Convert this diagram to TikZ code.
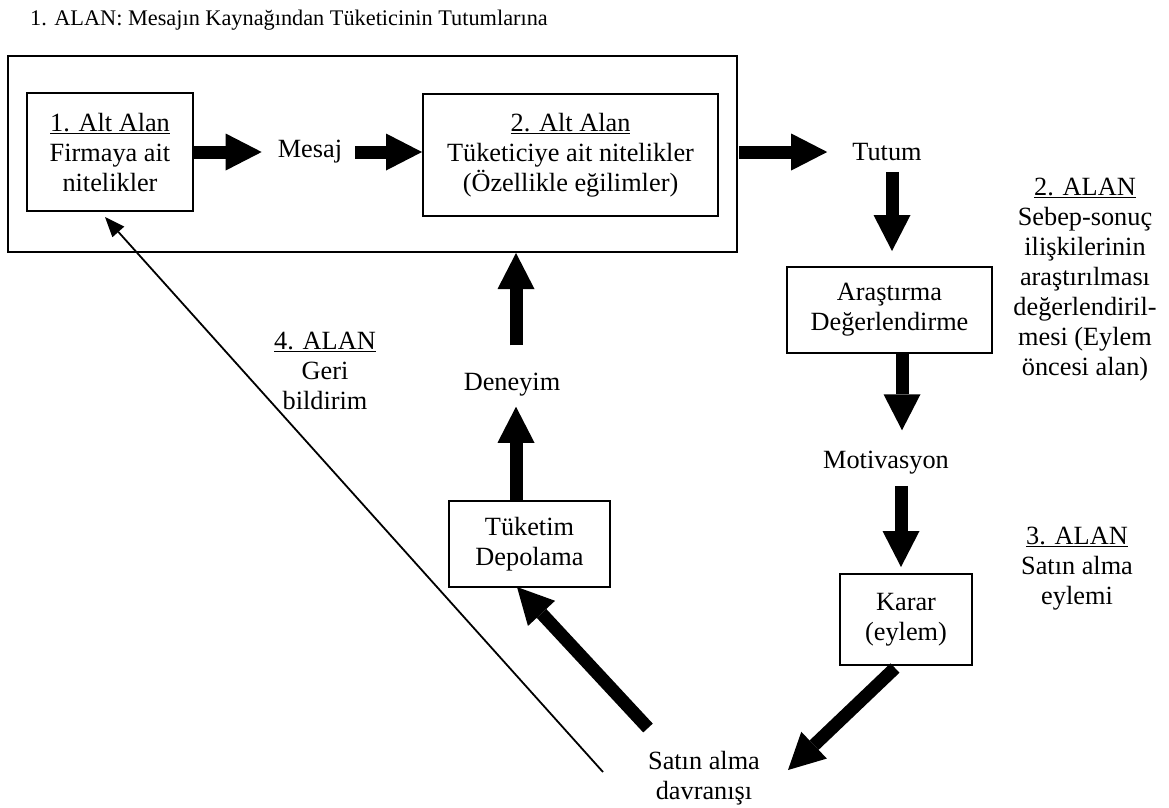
\documentclass[tikz,border=0pt]{standalone}
\usepackage{fontspec}
\setmainfont{Liberation Serif}
\usetikzlibrary{arrows.meta,calc}
\begin{document}
\begin{tikzpicture}[x=1pt,y=-1pt,
  txt/.style={inner sep=0pt, align=center, font=\fontsize{26.3}{30}\selectfont},
  box/.style={txt, draw, line width=2pt},
  blockarrow/.style={line width=13pt, -{Triangle[length=36pt,width=37pt,line width=0pt]}},
  finearrow/.style={line width=1.8pt, -{Triangle[length=20pt,width=16pt,line width=0pt]}}]
\useasboundingbox (0,0) rectangle (1169,807);

% heading
\node[anchor=base west, inner sep=0pt, font=\fontsize{22.3}{26}\selectfont] (title) at (30,25)
  {1. ALAN: Mesajın Kaynağından Tüketicinin Tutumlarına};

% first field frame and its two sub-fields
\node[draw, line width=2pt, inner sep=0pt, minimum width=729pt, minimum height=196pt] (outer) at (372.5,154) {};
\node[box, minimum width=166pt, minimum height=118pt] (firma) at (110,152)
  {\underline{1. Alt Alan}\\Firmaya ait\\nitelikler};
\node[box, minimum width=295pt, minimum height=122pt] (tuketici) at (570.5,155)
  {\underline{2. Alt Alan}\\Tüketiciye ait nitelikler\\(Özellikle eğilimler)};
\node[txt] (mesaj) at (310,152) {Mesaj};
\node[txt] (tutum) at (887,152) {Tutum};

% right column
\node[box, minimum width=205pt, minimum height=86pt] (arastirma) at (889.5,310)
  {Araştırma\\Değerlendirme};
\node[txt] (motiv) at (886,463) {Motivasyon};
\node[box, minimum width=132pt, minimum height=91pt] (karar) at (906,619.5)
  {Karar\\(eylem)};

% bottom and feedback path
\node[txt] (satin) at (704,778) {Satın alma\\davranışı};
\node[box, minimum width=161pt, minimum height=86pt] (tuketim) at (529.5,544)
  {Tüketim\\Depolama};
\node[txt] (deneyim) at (512,385) {Deneyim};

% field labels
\node[txt] (alan2) at (1085,280)
  {\underline{2. ALAN}\\Sebep-sonuç\\ilişkilerinin\\araştırılması\\değerlendiril-\\mesi (Eylem\\öncesi alan)};
\node[txt] (alan3) at (1077,569) {\underline{3. ALAN}\\Satın alma\\eylemi};
\node[txt] (alan4) at (325,371) {\underline{4. ALAN}\\Geri\\bildirim};

% free ends of the diagonal connectors
\coordinate (kararout) at (895,668);
\coordinate (satinin) at (788,770);
\coordinate (satinout) at (648,728);
\coordinate (tuketimin) at (517,587);
\coordinate (geriout) at (603,772);
\coordinate (geriin) at (105,217);

% connectors of the top row, all on the level of the first sub-field
\draw[blockarrow, shorten >=16pt] (firma.east) -- (firma.east -| mesaj.west);
\draw[blockarrow, shorten <=13pt] (mesaj.east |- firma.east) -- (tuketici.west |- firma.east);
\draw[blockarrow, shorten <=20pt, shorten >=25pt] (tuketici.east |- firma.east) -- (tutum.west |- firma.east);
% right column
\draw[blockarrow, shorten <=11pt, shorten >=15pt] ([xshift=5pt]tutum.south) -- ([xshift=5pt]tutum.south |- arastirma.north);
\draw[blockarrow, shorten >=21pt] ([xshift=12.5pt]arastirma.south) -- ([xshift=12.5pt]arastirma.south |- motiv.north);
\draw[blockarrow, shorten <=11pt, shorten >=6pt] ([xshift=15pt]motiv.south) -- ([xshift=15pt]motiv.south |- karar.north);
% diagonals
\draw[blockarrow] (kararout) -- (satinin);
\draw[blockarrow] (satinout) -- (tuketimin);
% return column
\draw[blockarrow, shorten >=10pt] ([xshift=-13.5pt]tuketim.north) -- ([xshift=-13.5pt]tuketim.north |- deneyim.south);
\draw[blockarrow, shorten <=28pt] ([xshift=4pt]deneyim.north) -- ([xshift=4pt]deneyim.north |- outer.south);
% feedback
\draw[finearrow] (geriout) -- (geriin);
\end{tikzpicture}
\end{document}
